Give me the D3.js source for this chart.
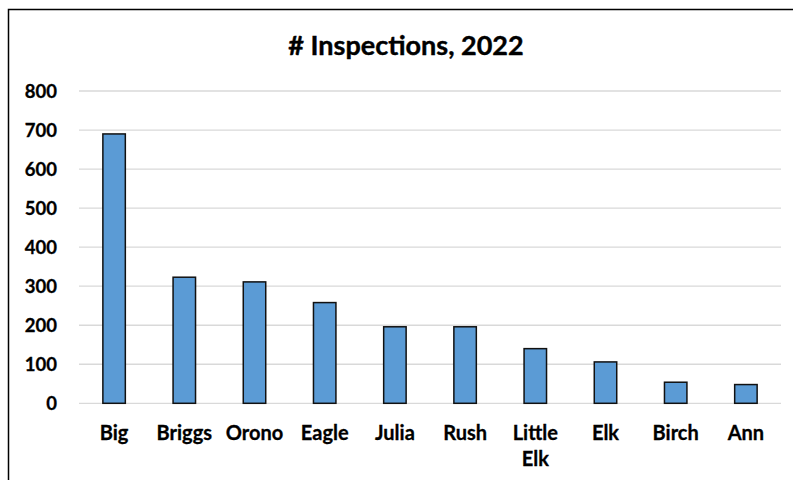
<!DOCTYPE html>
<html>
<head>
<meta charset="utf-8">
<script src="https://cdn.jsdelivr.net/npm/d3@7"></script>
<style>
  body { margin: 0; background: white; }
  text { font-family: Lato, "Open Sans", sans-serif; font-weight: bold; fill: #000; }
</style>
</head>
<body>
<div id="container"></div>
<script>
let w = 793;
let h = 480;

// data
let lakes = ["Big", "Briggs", "Orono", "Eagle", "Julia", "Rush", "Little Elk", "Elk", "Birch", "Ann"];
let inspections = [690, 323, 311, 258, 196, 196, 140, 106, 54, 48];
let yTicks = [0, 100, 200, 300, 400, 500, 600, 700, 800];
let chartTitle = "# Inspections, 2022";

let viz = d3.select("#container")
  .append("svg")
    .attr("width", w)
    .attr("height", h)
    .style("background-color", "white")
;

// chart frame (runs off the right and bottom edge)
viz.append("rect")
  .attr("x", 8.5)
  .attr("y", 9.5)
  .attr("width", 820)
  .attr("height", 520)
  .attr("fill", "none")
  .attr("stroke", "#000")
  .attr("stroke-width", 1.5)
;

let xScale = d3.scaleBand().domain(lakes).range([79, 781]).paddingInner(0.68).paddingOuter(0.34);
let yScale = d3.scaleLinear().domain([0, 800]).range([403.3, 91]);

// gridlines
viz.append("g")
  .selectAll("line")
  .data(yTicks)
  .enter()
  .append("line")
    .attr("x1", 79)
    .attr("x2", 781)
    .attr("y1", d => yScale(d))
    .attr("y2", d => yScale(d))
    .attr("stroke", "#d9d9d9")
    .attr("stroke-width", 1.3)
;

// y tick labels
viz.append("g")
  .selectAll("text")
  .data(yTicks)
  .enter()
  .append("text")
    .attr("x", 57)
    .attr("y", d => yScale(d))
    .attr("dy", "0.36em")
    .attr("text-anchor", "end")
    .style("font-size", "18.5px")
    .style("stroke", "#000")
    .style("stroke-width", 0.3)
    .text(d => d)
;

// bars
viz.append("g")
  .selectAll("rect")
  .data(inspections)
  .enter()
  .append("rect")
    .attr("x", (d, i) => xScale(lakes[i]))
    .attr("y", d => yScale(d))
    .attr("width", xScale.bandwidth())
    .attr("height", d => yScale(0) - yScale(d))
    .attr("fill", "#5b9bd5")
    .attr("stroke", "#111")
    .attr("stroke-width", 1.5)
;

// x labels, wrapped on spaces
let xLabels = viz.append("g")
  .selectAll("text")
  .data(lakes)
  .enter()
  .append("text")
    .attr("text-anchor", "middle")
    .style("font-size", "20px")
    .style("stroke", "#000")
    .style("stroke-width", 0.3)
;
xLabels.each(function(d) {
  let words = d.split(" ");
  let cx = xScale(d) + xScale.bandwidth() / 2;
  words.forEach(function(word, k) {
    d3.select(this).append("tspan")
      .attr("x", cx)
      .attr("y", 440 + k * 26)
      .text(word);
  }, this);
});

// title
viz.append("text")
  .attr("x", 406)
  .attr("y", 54.5)
  .attr("text-anchor", "middle")
  .style("font-size", "27px")
  .style("stroke", "#000")
  .style("stroke-width", 0.4)
  .text(chartTitle)
;
</script>
</body>
</html>
